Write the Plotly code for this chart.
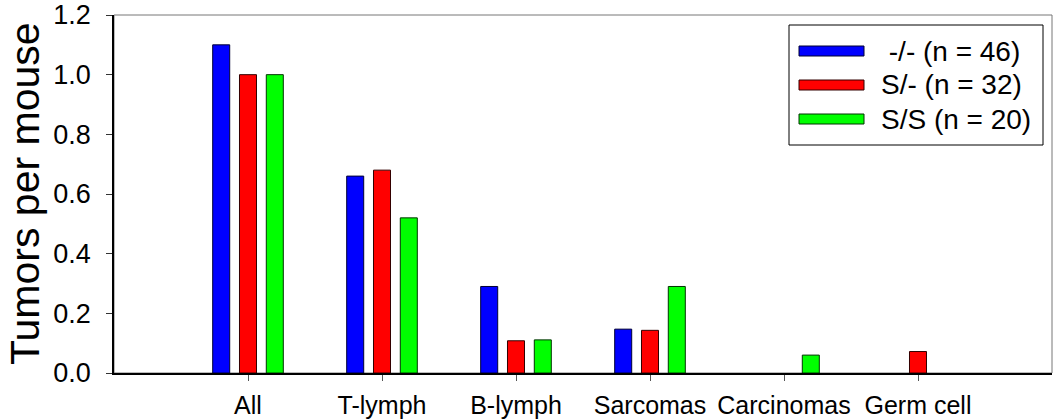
import plotly.graph_objects as go

categories = ["All", "T-lymph", "B-lymph", "Sarcomas", "Carcinomas", "Germ cell"]
series_names = ["\u00a0-/- (n = 46)", "S/- (n = 32)", "S/S (n = 20)"]
vals_ko = [1.10, 0.66, 0.29, 0.147, None, None]
vals_s_het = [1.00, 0.68, 0.108, 0.143, None, 0.072]
vals_ss = [1.00, 0.52, 0.111, 0.29, 0.06, None]
colors = ["#0000FF", "#FF0000", "#00FF00"]
edge_colors = ["#000033", "#330000", "#003300"]
y_ticks = [0.0, 0.2, 0.4, 0.6, 0.8, 1.0, 1.2]
y_tick_text = ["0.0", "0.2", "0.4", "0.6", "0.8", "1.0", "1.2"]

FONT = "Liberation Sans, Arial, sans-serif"

fig = go.Figure()
for name, vals, c, ec in zip(series_names, [vals_ko, vals_s_het, vals_ss], colors, edge_colors):
    fig.add_trace(go.Bar(x=categories, y=vals, name=name,
                         marker=dict(color=c, line=dict(color=ec, width=1)),
                         showlegend=False))

W, H = 1053, 419
L, R, T, B = 114, 1, 15, 46

fig.update_layout(
    width=W, height=H,
    margin=dict(l=L, r=R, t=T, b=B, autoexpand=False),
    paper_bgcolor="white", plot_bgcolor="white",
    barmode="group", bargap=0.4, bargroupgap=0.365,
    font=dict(family=FONT, color="black"),
    xaxis=dict(type="category", range=[-1, 6], showline=True, linecolor="black", linewidth=1.5,
               ticks="outside", ticklen=6, tickcolor="#555555", tickwidth=1,
               tickfont=dict(size=25, family=FONT), showgrid=False, zeroline=False,
               ticklabelstandoff=3),
    yaxis=dict(range=[0, 1.2], tickvals=y_ticks, ticktext=y_tick_text, showline=True,
               linecolor="black", linewidth=1.5, ticks="outside", ticklen=6, tickcolor="#333333",
               tickfont=dict(size=27, family=FONT), showgrid=False, zeroline=False,
               ticklabelstandoff=10),
)

# frame (top/right)
fig.add_shape(type="rect", xref="paper", yref="paper", x0=0, x1=1, y0=0, y1=1,
              line=dict(color="#777777", width=1), layer="below")

# y-axis title
fig.add_annotation(text="Tumors per mouse", xref="paper", yref="paper",
                   x=-(L - 25) / (W - L - R), y=0.5, textangle=-90, showarrow=False,
                   xanchor="center", yanchor="middle", font=dict(size=41, family=FONT))

# legend box
pw, ph = W - L - R, H - T - B
def px(x):
    return (x - L) / pw
def py(y):
    return (H - B - y) / ph

fig.add_shape(type="rect", xref="paper", yref="paper", x0=px(789), x1=px(1043), y0=py(145), y1=py(25),
              line=dict(color="black", width=1), fillcolor="white")
for i, (name, c, ec) in enumerate(zip(series_names, colors, edge_colors)):
    yc = [51, 85, 119][i]
    fig.add_shape(type="rect", xref="paper", yref="paper", x0=px(799), x1=px(864),
                  y0=py(yc + 5), y1=py(yc - 5), line=dict(color=ec, width=1), fillcolor=c)
    fig.add_annotation(text=name, xref="paper", yref="paper", x=px(879), y=py(yc),
                       xanchor="left", yanchor="middle", showarrow=False,
                       font=dict(size=28, family=FONT))

fig.write_html("out.html", config={"displayModeBar": False},
               post_script="document.body.style.margin='0';document.body.style.overflow='hidden';")
